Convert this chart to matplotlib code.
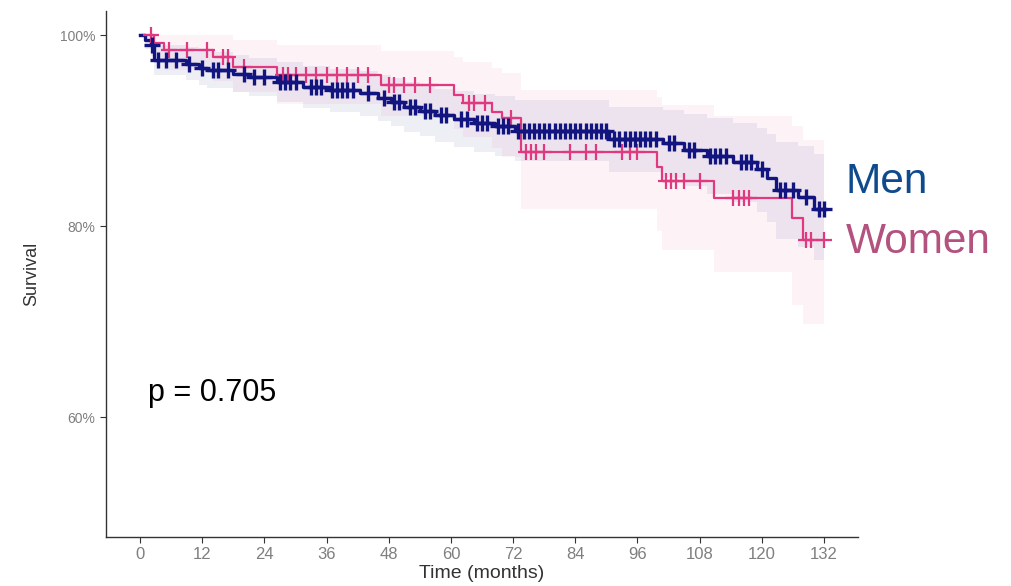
import numpy as np
import matplotlib
matplotlib.use("Agg")
import matplotlib.pyplot as plt
from matplotlib.ticker import PercentFormatter

# ---------- Data ----------

# Men: event times, KM estimate, 95% CI
men_time = [0, 1.0, 2.0, 2.7, 8.8, 11.3, 13.0, 18.0, 21.0, 26.5, 31.5, 36.7, 42.5, 46.0,
            48.5, 51.0, 54.0, 57.0, 60.5, 64.5, 68.5, 72.3, 90.5, 101.0, 105.0, 109.5,
            114.5, 119.0, 121.0, 122.7, 127.0, 130.0]
men_surv = [1.0, 0.995, 0.99, 0.974, 0.970, 0.966, 0.963, 0.959, 0.956, 0.951, 0.946, 0.942,
            0.939, 0.934, 0.930, 0.925, 0.921, 0.916, 0.912, 0.908, 0.905, 0.900, 0.891,
            0.887, 0.880, 0.874, 0.867, 0.860, 0.851, 0.838, 0.831, 0.818]
men_lo = [1.0, 0.985, 0.978, 0.958, 0.953, 0.948, 0.945, 0.940, 0.936, 0.930, 0.924, 0.919,
          0.915, 0.910, 0.905, 0.899, 0.894, 0.888, 0.883, 0.878, 0.874, 0.868, 0.857,
          0.851, 0.842, 0.834, 0.825, 0.815, 0.804, 0.787, 0.778, 0.765]
men_hi = [1.0, 1.0, 1.0, 0.990, 0.987, 0.984, 0.982, 0.979, 0.976, 0.972, 0.968, 0.965,
          0.962, 0.958, 0.955, 0.951, 0.948, 0.944, 0.941, 0.938, 0.936, 0.932, 0.925,
          0.922, 0.917, 0.913, 0.908, 0.903, 0.897, 0.888, 0.884, 0.876]
men_censor = [2.2, 3.5, 5, 7, 9.5, 12, 14, 15, 17, 20, 22, 24, 27, 28, 29, 30, 33, 34, 35,
              37, 38, 39, 40, 41, 44, 47, 49, 50, 52, 53, 55, 56, 58, 59, 62, 63, 65, 66,
              67, 69, 70, 71, 73, 74, 75, 76, 77, 78, 79, 80, 81, 82, 83, 84, 85, 86, 87,
              88, 89, 90, 91.5, 92.5, 93.5, 94.5, 95.5, 96.5, 97.5, 98.5, 99.5, 102, 103,
              106, 107, 110, 111, 112, 113, 116, 117, 118, 120, 123.5, 124.5, 126, 128.5,
              131, 132]

# Women
women_time = [0, 2.7, 4.6, 14.0, 18.0, 26.5, 46.4, 60.6, 62.3, 68.0, 69.8, 73.6, 99.8,
              100.8, 110.8, 125.8, 128.0]
women_surv = [1.0, 0.992, 0.984, 0.977, 0.967, 0.958, 0.948, 0.937, 0.929, 0.920, 0.913,
              0.878, 0.862, 0.847, 0.830, 0.809, 0.786]
women_lo = [1.0, 0.976, 0.963, 0.952, 0.940, 0.928, 0.915, 0.902, 0.893, 0.882, 0.872,
            0.818, 0.795, 0.775, 0.752, 0.718, 0.698]
women_hi = [1.0, 1.0, 1.0, 1.0, 0.995, 0.990, 0.983, 0.977, 0.972, 0.966, 0.960, 0.942,
            0.935, 0.927, 0.915, 0.905, 0.890]
women_censor = [2, 5.5, 9, 13, 16, 17, 20, 27.5, 28.5, 30, 32, 34, 36, 38, 40, 42, 44, 48,
                49, 51, 53, 56, 63.5, 64.5, 66.5, 71.5, 74.5, 75.5, 76.5, 78, 83, 86, 88,
                93, 94.5, 96, 101.5, 102.5, 103.5, 105, 108, 114.5, 115.5, 116.5, 117.5,
                128.5, 129.5, 132]

x_ticks = list(range(0, 133, 12))
y_ticks = [0.6, 0.8, 1.0]
p_text = "p = 0.705"

# ---------- Styling ----------
men_color = "#12157F"
women_color = "#E0397F"
men_label_color = "#0E4A8C"
women_label_color = "#B3517F"
tick_grey = "#7F7F7F"

plt.rcParams["font.family"] = ["Liberation Sans", "DejaVu Sans"]

fig = plt.figure(figsize=(10.12, 5.86), dpi=100)
ax = fig.add_axes([0.1047, 0.0836, 0.7433, 0.8974])


def km_curve(times, surv, lo, hi, censor, color, lw, ms, band_alpha):
    t = np.append(times, 132)
    s = np.append(surv, surv[-1])
    l = np.append(lo, lo[-1])
    h = np.append(hi, hi[-1])
    ax.fill_between(t, l, h, step="post", color=color, alpha=band_alpha, lw=0)
    ax.step(t, s, where="post", color=color, lw=lw, zorder=3)
    idx = np.searchsorted(times, censor, side="right") - 1
    ax.plot(censor, np.asarray(surv)[idx], ls="none", marker="+", ms=ms, mew=lw,
            color=color, zorder=4)


km_curve(women_time, women_surv, women_lo, women_hi, women_censor, women_color, 1.6, 11, 0.06)
km_curve(men_time, men_surv, men_lo, men_hi, men_censor, men_color, 2.4, 12, 0.07)

ax.set_xlim(-6.6, 138.6)
ax.set_ylim(0.475, 1.025)
ax.set_xticks(x_ticks)
ax.set_yticks(y_ticks)
ax.yaxis.set_major_formatter(PercentFormatter(1.0, decimals=0))
ax.tick_params(axis="x", labelsize=12, colors="#333333", length=4, labelcolor=tick_grey)
ax.tick_params(axis="y", labelsize=10, colors="#333333", length=4, labelcolor=tick_grey)
for side in ["top", "right"]:
    ax.spines[side].set_visible(False)
for side in ["left", "bottom"]:
    ax.spines[side].set_color("#333333")
    ax.spines[side].set_linewidth(1.0)

ax.set_xlabel("Time (months)", fontsize=14, color="#333333", labelpad=2)
ax.set_ylabel("Survival", fontsize=13, color="#333333", labelpad=14)

ax.text(1.5, 0.626, p_text, fontsize=22, va="center", ha="left", color="black")
ax.text(136.2, 0.8465, "Men", fontsize=30.5, va="center", ha="left", clip_on=False,
        color=men_label_color)
ax.text(136.2, 0.784, "Women", fontsize=30.5, va="center", ha="left", clip_on=False,
        color=women_label_color)

fig.savefig("out.png", dpi=100)
